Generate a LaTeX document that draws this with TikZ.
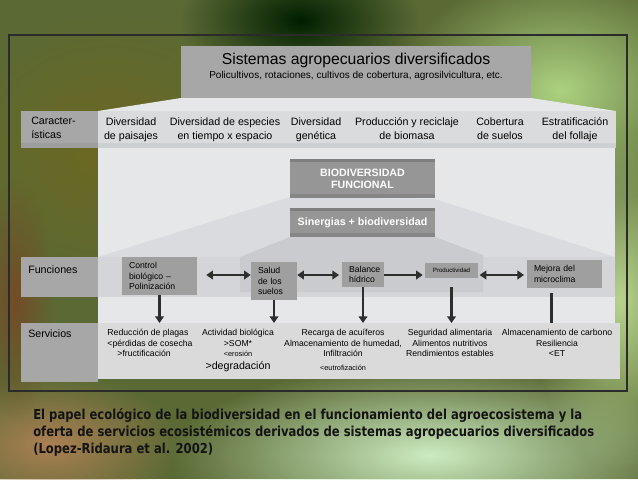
\documentclass[tikz,border=0pt]{standalone}
\usepackage{fontspec}
\setmainfont{Liberation Sans}
\newfontfamily\capfont[FakeStretch=0.845]{DejaVu Sans}
\usetikzlibrary{arrows.meta,calc,fadings}

\tikzfading[name=blobfade, inner color=transparent!0, outer color=transparent!100]

\definecolor{bgbase}{HTML}{5B6A35}
\definecolor{framegray}{HTML}{2B2B2B}
\definecolor{boxgray}{HTML}{A7A7A7}
\definecolor{darkbox}{HTML}{969696}
\definecolor{bevelgray}{HTML}{7F7F7F}
\definecolor{panelgray}{HTML}{E5E7E9}
\definecolor{bandgray}{HTML}{DADBDD}
\definecolor{bandedge}{HTML}{CDD0D2}
\definecolor{wedgegray}{HTML}{D9DBDE}
\definecolor{rowgray}{HTML}{D3D5D8}
\definecolor{innergray}{HTML}{C9CBCE}
\definecolor{servgray}{HTML}{DADADA}
\definecolor{arrowgray}{HTML}{2E2E2E}

\begin{document}
\begin{tikzpicture}[
    x=0.75pt, y=-0.75pt,
    bevel/.style={path picture={
        \fill[bevelgray] (path picture bounding box.north west) rectangle ([yshift=-2.5pt]path picture bounding box.north east);
        \fill[bevelgray!70!darkbox] (path picture bounding box.south west) rectangle ([yshift=3pt]path picture bounding box.south east);
    }},
    biobox/.style={rectangle, fill=darkbox, bevel, inner sep=0pt, minimum width=108.75pt,
        align=center, text=white, font=\fontsize{8}{9}\selectfont\bfseries},
    sidebox/.style={rectangle, fill=boxgray, inner sep=0pt, minimum width=57.75pt},
    funbox/.style={rectangle, fill=boxgray!95!black, inner xsep=5.25pt, inner ysep=0pt,
        align=left, font=\fontsize{6.5}{7.9}\selectfont},
    sidetxt/.style={anchor=north west, inner sep=0pt, align=left, font=\fontsize{8}{10.5}\selectfont},
    chartxt/.style={anchor=north, inner sep=0pt, align=center, font=\fontsize{8}{10.5}\selectfont},
    servtxt/.style={anchor=north, inner sep=0pt, align=center, font=\fontsize{6.5}{7.9}\selectfont},
    link/.style={{Triangle[length=5pt,width=6.5pt]}-{Triangle[length=5pt,width=6.5pt]}, line width=1.8pt, draw=arrowgray},
    oneway/.style={-{Triangle[length=5pt,width=6.5pt]}, line width=1.8pt, draw=arrowgray},
    stem/.style={line width=1.8pt, draw=arrowgray},
]

    % Rows (pixel units, y grows downwards).
    \def\yChar{117}
    \def\yServ{329}

    % ---------- background ----------
    \begin{scope}
        \clip (0,0) rectangle (638,479);
        \fill[bgbase] (0,0) rectangle (638,479);
        \fill[olive!70!black, path fading=blobfade] (110,150) ellipse (170 and 140);
        \fill[black!70!green!40!black, path fading=blobfade] (300,20) ellipse (120 and 70);
        \fill[green!30!olive!50!white, path fading=blobfade] (560,90) ellipse (160 and 120);
        \fill[green!25!olive!45!white, path fading=blobfade] (620,300) ellipse (90 and 170);
        \fill[yellow!20!green!25!white, path fading=blobfade] (430,455) ellipse (260 and 90);
        \fill[brown!70!gray, path fading=blobfade] (50,445) ellipse (130 and 70);
        \fill[brown!60!black, path fading=blobfade] (15,300) ellipse (40 and 120);
    \end{scope}
    \useasboundingbox (0,0) rectangle (638,479);

    \draw[framegray, line width=1.1pt] (9,35) rectangle (627,391);

    % ---------- panels ----------
    \fill[panelgray] (181,98) -- (531,98) -- (616,111) -- (98,111) -- cycle;
    \fill[panelgray] (98,148) rectangle (615,323);
    \fill[bandgray] (98,111) rectangle (616,144);
    \fill[bandedge] (98,143) rectangle (616,148);
    \fill[wedgegray] (290,197) -- (435,199) -- (615,257) -- (98,257) -- cycle;
    \fill[rowgray] (98,257) rectangle (615,297);
    \fill[innergray] (290,237) -- (435,237) -- (483,255) -- (483,292) -- (240,292) -- (240,257) -- cycle;
    \fill[servgray] (98,323) rectangle (620,379);

    % ---------- title ----------
    \node[rectangle, fill=boxgray, minimum width=262.5pt, minimum height=39pt] (titlebox) at (356,72) {};
    \node[font=\fontsize{11.8}{12}\selectfont, inner sep=0pt] (titlemain) at (356,60) {Sistemas agropecuarios diversificados};
    \node[font=\fontsize{7.5}{8}\selectfont, inner sep=0pt] (titlesub) at (356,76) {Policultivos, rotaciones, cultivos de cobertura, agrosilvicultura, etc.};

    % ---------- left labels ----------
    \node[sidebox, minimum height=27.75pt, path picture={\fill[black!38] (path picture bounding box.south west) rectangle ([yshift=3.75pt]path picture bounding box.south east);}] (charlab) at (59.5,129.5) {};
    \node[sidebox, minimum height=30pt] (funlab) at (59.5,277) {};
    \node[sidebox, minimum height=44.25pt] (servlab) at (59,352.5) {};
    \node[sidetxt] (chartitle) at (31,\yChar) {Caracter-\\ísticas};
    \node[sidetxt] (funtitle) at (28,265) {Funciones};
    \node[sidetxt] (servtitle) at (28,\yServ) {Servicios};

    % ---------- characteristics ----------
    \node[chartxt] (paisajes) at (131,\yChar) {Diversidad\\de paisajes};
    \node[chartxt] (especies) at (225,\yChar) {Diversidad de especies\\en tiempo x espacio};
    \node[chartxt] (genetica) at (316,\yChar) {Diversidad\\genética};
    \node[chartxt] (biomasa) at (407,\yChar) {Producción y reciclaje\\de biomasa};
    \node[chartxt] (cobertura) at (500,\yChar) {Cobertura\\de suelos};
    \node[chartxt] (follaje) at (575,\yChar) {Estratificación\\del follaje};

    % ---------- biodiversidad ----------
    \node[biobox, minimum height=29.25pt] (biofun) at (362.5,178.5) {BIODIVERSIDAD\\FUNCIONAL};
    \node[biobox, minimum height=21.75pt] (sinergias) at (362.5,222.5) {Sinergias + biodiversidad};

    % ---------- funciones ----------
    \node[funbox, minimum height=28.5pt, text width=45.75pt] (ctrl) at (159.5,276) {Control\\biológico –\\Polinización};
    \node[funbox, minimum height=28.5pt, text width=24pt] (salud) at (274,281) {Salud\\de los\\suelos};
    \node[funbox, minimum height=18.75pt, text width=21pt] (balance) at (363,274.5) {Balance\\hídrico};
    \node[funbox, minimum height=11.25pt, text width=29.25pt, align=center, font=\fontsize{4.6}{5}\selectfont] (prod) at (451.5,270.5) {Productividad};
    \node[funbox, minimum height=21pt, text width=45.75pt] (mejora) at (564.5,274) {Mejora del\\microclima};

    \coordinate (frow) at (0,275);
    \coordinate (srow) at (0,323);
    \coordinate (mstem) at ($(mejora.south)+(-13,5)$);

    \draw[link, shorten <=6.75pt] (ctrl.east |- frow) -- (salud.west |- frow);
    \draw[link, shorten >=2pt] (salud.east |- frow) -- (balance.west |- frow);
    \draw[oneway, shorten >=1.5pt] (balance.east |- frow) -- (prod.west |- frow);
    \draw[link, shorten <=1pt, shorten >=2pt] (prod.east |- frow) -- (mejora.west |- frow);

    \draw[oneway] (ctrl.south) -- (ctrl.south |- srow);
    \draw[oneway] (salud.south) -- (salud.south |- srow);
    \draw[oneway] (balance.south) -- (balance.south |- srow);
    \draw[oneway, shorten <=6.75pt] (prod.south) -- (prod.south |- srow);
    \draw[stem] (mstem) -- (mstem |- srow);

    % ---------- servicios ----------
    \node[servtxt, align=left] (plagas) at (150,\yServ) {Reducción de plagas\\<pérdidas de cosecha\\\hspace*{7.5pt}>fructificación};
    \node[servtxt] (actividad) at (238,\yServ) {Actividad biológica\\>SOM*\\{\fontsize{5.5}{6}\selectfont <erosión}\\[1.5pt]{\fontsize{8}{9}\selectfont >degradación}};
    \node[servtxt] (acuiferos) at (343,\yServ) {Recarga de acuíferos\\Almacenamiento de humedad,\\Infiltración\\[2.5pt]{\fontsize{5.5}{6}\selectfont <eutrofización}};
    \node[servtxt] (seguridad) at (450,\yServ) {Seguridad alimentaria\\Alimentos nutritivos\\Rendimientos estables};
    \node[servtxt] (carbono) at (557,\yServ) {Almacenamiento de carbono\\Resiliencia\\<ET};

    % ---------- caption ----------
    \node[anchor=north west, inner sep=0pt, align=left, text=black!92,
        font=\capfont\bfseries\fontsize{10.3}{12.75}\selectfont] (caption) at (33,408)
        {El papel ecológico de la biodiversidad en el funcionamiento del agroecosistema y la\\
         oferta de servicios ecosistémicos derivados de sistemas agropecuarios diversificados\\
         (Lopez-Ridaura et al. 2002)};

\end{tikzpicture}
\end{document}
